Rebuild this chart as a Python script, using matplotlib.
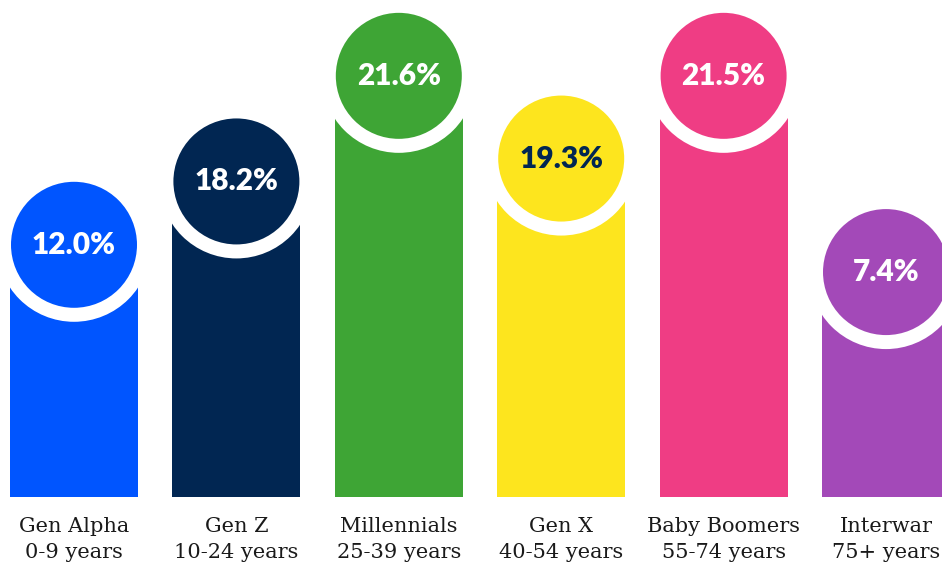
import matplotlib
matplotlib.use("Agg")
import matplotlib.pyplot as plt
from matplotlib.patches import Ellipse

# ---- data ----
generations = ["Gen Alpha", "Gen Z", "Millennials", "Gen X", "Baby Boomers", "Interwar"]
age_ranges = ["0-9 years", "10-24 years", "25-39 years", "40-54 years", "55-74 years", "75+ years"]
shares = [12.0, 18.2, 21.6, 19.3, 21.5, 7.4]
# visual bar heights as drawn in the infographic (not proportional to shares)
bar_heights = [12.0, 15.6, 21.6, 16.9, 21.6, 10.45]
colors = ["#0055FF", "#012652", "#3EA535", "#FDE51E", "#EF3D84", "#A349B8"]
text_colors = ["white", "white", "white", "#012652", "white", "white"]

# ---- layout ----
W, H = 942, 564
fig = plt.figure(figsize=(W / 100, H / 100), dpi=100)
ax = fig.add_axes([0, 0, 1, 1])
px_x = 162.4          # pixels per category slot
px_y = 17.6           # pixels per height unit
x0_px = 74            # pixel centre of first bar
base_px = 497         # baseline pixel from top
ax.set_xlim(-x0_px / px_x, (W - x0_px) / px_x)
ax.set_ylim(-(H - base_px) / px_y, base_px / px_y)
ax.axis("off")

bar_w = 128 / px_x
r_in = 63
r_out = 77
offset = 41 / px_y

xs = list(range(len(generations)))
ax.bar(xs, bar_heights, width=bar_w, color=colors, zorder=1)

for x, h, c, tc, v in zip(xs, bar_heights, colors, text_colors, shares):
    cy = h + offset
    ax.add_patch(Ellipse((x, cy), 2 * r_out / px_x, 2 * r_out / px_y,
                         facecolor="white", edgecolor="none", zorder=2))
    ax.add_patch(Ellipse((x, cy), 2 * r_in / px_x, 2 * r_in / px_y,
                         facecolor=c, edgecolor="none", zorder=3))
    ax.text(x, cy, f"{v:.1f}%", ha="center", va="center", color=tc,
            fontsize=21.5, fontweight="heavy", family="Lato", zorder=4)

for x, g, a in zip(xs, generations, age_ranges):
    ax.text(x, -(526 - base_px) / px_y, g, ha="center", va="center",
            fontsize=15, family="DejaVu Serif", color="#1a1a1a")
    ax.text(x, -(552 - base_px) / px_y, a, ha="center", va="center",
            fontsize=15, family="DejaVu Serif", color="#1a1a1a")

fig.savefig("out.png", dpi=100)
